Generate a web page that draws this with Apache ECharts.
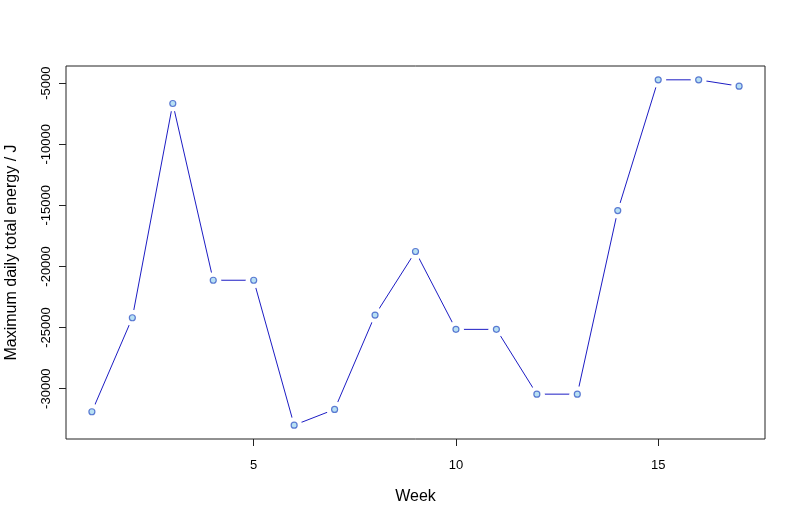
<!DOCTYPE html>
<html><head><meta charset="utf-8">
<script src="https://cdn.jsdelivr.net/npm/echarts@6/dist/echarts.min.js"></script>
<style>html,body{margin:0;padding:0;background:#fff}#c{width:800px;height:522px}</style>
</head><body><div id="c"></div>
<script>
const weeks = [1,2,3,4,5,6,7,8,9,10,11,12,13,14,15,16,17];
const energy = [-31890,-24200,-6670,-21130,-21130,-32990,-31700,-23980,-18780,-25150,-25150,-30450,-30450,-15430,-4730,-4730,-5250];
const xTicks = [5,10,15];
const yTicks = [-30000,-25000,-20000,-15000,-10000,-5000];
const xTitle = 'Week';
const yTitle = 'Maximum daily total energy / J';

const pts = weeks.map((w,i)=>[w,energy[i]]);
const ymin = Math.min(...energy), ymax = Math.max(...energy);
const yext = (ymax-ymin)*0.04;
const xext = (weeks[weeks.length-1]-weeks[0])*0.04;
const font = 'Liberation Sans, Arial, sans-serif';

const chart = echarts.init(document.getElementById('c'), null, {renderer:'canvas'});
chart.setOption({
  animation:false,
  backgroundColor:'#fff',
  grid:{left:66,right:35,top:66,bottom:83,containLabel:false,outerBoundsMode:'none',show:true,borderColor:'#222',borderWidth:1,backgroundColor:'transparent'},
  xAxis:{type:'value',min:weeks[0]-xext,max:weeks[weeks.length-1]+xext,
    name:xTitle,nameLocation:'middle',nameGap:50,nameTextStyle:{fontFamily:font,fontSize:16,color:'#000'},
    axisLine:{show:false},splitLine:{show:false},
    axisTick:{show:true,inside:false,length:7,customValues:xTicks,lineStyle:{color:'#222'}},
    axisLabel:{customValues:xTicks,margin:20,fontFamily:font,fontSize:13,color:'#000',formatter:v=>String(v)}},
  yAxis:{type:'value',min:ymin-yext,max:ymax+yext,
    name:yTitle,nameLocation:'middle',nameGap:46,nameRotate:90,nameTextStyle:{fontFamily:font,fontSize:16,color:'#000'},
    axisLine:{show:false},splitLine:{show:false},
    axisTick:{show:true,inside:false,length:7,customValues:yTicks,lineStyle:{color:'#222'}},
    axisLabel:{customValues:yTicks,rotate:90,margin:13,fontFamily:font,fontSize:13,color:'#000',formatter:v=>String(v)}},
  series:[
    {type:'line',data:pts,symbol:'none',lineStyle:{color:'#1c1cc4',width:1},z:2,silent:true},
    {type:'scatter',data:pts,symbol:'circle',symbolSize:16,itemStyle:{color:'#fff',opacity:1},z:3,silent:true},
    {type:'scatter',data:pts,symbol:'circle',symbolSize:6,itemStyle:{color:'#a6d8f0',borderColor:'#3a5cc8',borderWidth:1.2},z:4,silent:true}
  ]
});
</script></body></html>
